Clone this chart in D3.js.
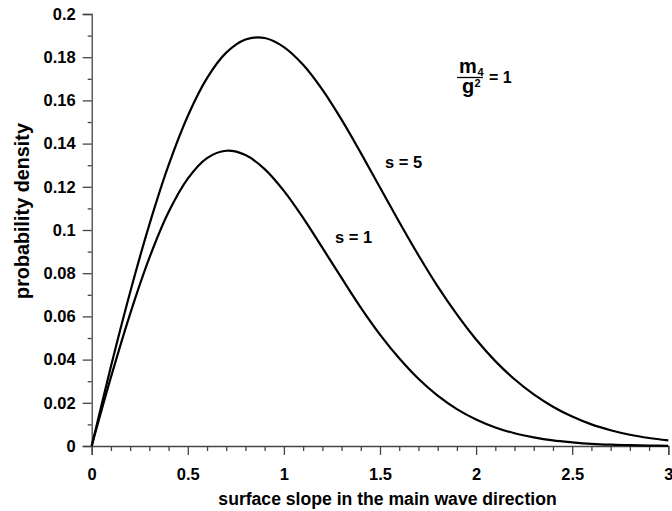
<!DOCTYPE html>
<html>
<head>
<meta charset="utf-8">
<script src="https://cdn.jsdelivr.net/npm/d3@7"></script>
<style>
  html, body { margin: 0; padding: 0; background: #fff; }
  svg { display: block; font-family: "Liberation Sans", Arial, Helvetica, sans-serif; }
</style>
</head>
<body>
<svg id="chart" width="672" height="511"></svg>
<script>
// ---- data ----
const xValues = [0.0, 0.1, 0.2, 0.3, 0.4, 0.5, 0.6, 0.7, 0.8, 0.9, 1.0,
                 1.1, 1.2, 1.3, 1.4, 1.5, 1.6, 1.7, 1.8, 1.9, 2.0,
                 2.1, 2.2, 2.3, 2.4, 2.5, 2.6, 2.7, 2.8, 2.9, 3.0];
const densityS1 = [0, 0.0318, 0.0612, 0.0871, 0.1083, 0.1238, 0.1333, 0.1367, 0.1347, 0.1282, 0.1181,
                   0.1056, 0.0918, 0.0778, 0.0641, 0.0516, 0.0406, 0.0311, 0.0233, 0.0171, 0.0123,
                   0.0086, 0.0059, 0.0040, 0.0026, 0.0017, 0.0010, 0.0006, 0.0004, 0.0002, 0.0001];
const densityS5 = [0, 0.0368, 0.0712, 0.1025, 0.1300, 0.1528, 0.1703, 0.1821, 0.1882, 0.1889, 0.1847,
                   0.1765, 0.1650, 0.1511, 0.1357, 0.1197, 0.1037, 0.0883, 0.0739, 0.0609, 0.0493,
                   0.0393, 0.0309, 0.0239, 0.0182, 0.0136, 0.0100, 0.0073, 0.0052, 0.0037, 0.0026];
const seriesLabels = ["s = 1", "s = 5"];
const xMajorTicks = [0, 0.5, 1, 1.5, 2, 2.5, 3];
const xTickLabels = ["0", "0.5", "1", "1.5", "2", "2.5", "3"];
const yMajorTicks = [0, 0.02, 0.04, 0.06, 0.08, 0.1, 0.12, 0.14, 0.16, 0.18, 0.2];
const yTickLabels = ["0", "0.02", "0.04", "0.06", "0.08", "0.1", "0.12", "0.14", "0.16", "0.18", "0.2"];
const xTitle = "surface slope in the main wave direction";
const yTitle = "probability density";

// ---- layout ----
const svg = d3.select("#chart");
const x = d3.scaleLinear().domain([0, 3]).range([91.7, 668.3]);
const y = d3.scaleLinear().domain([0, 0.2]).range([446, 14]);
const TICK_FS = 16.5;
const axisColor = "#444";

// minor ticks
const xMinor = d3.range(0, 3.0001, 0.1).map(v => +v.toFixed(2)).filter(v => !xMajorTicks.some(m => Math.abs(m - v) < 1e-6));
const yMinor = d3.range(0.01, 0.2, 0.02).map(v => +v.toFixed(3));

const gx = svg.append("g").attr("transform", `translate(0,${y(0)})`);
gx.call(d3.axisBottom(x).tickValues(xMajorTicks).tickSize(9).tickPadding(13)
  .tickFormat((d, i) => xTickLabels[i]));
gx.append("g").call(d3.axisBottom(x).tickValues(xMinor).tickSize(5).tickFormat(""))
  .select(".domain").remove();

const gy = svg.append("g").attr("transform", `translate(${x(0)},0)`);
gy.call(d3.axisLeft(y).tickValues(yMajorTicks).tickSize(9).tickPadding(7)
  .tickFormat((d, i) => yTickLabels[i]));
gy.append("g").call(d3.axisLeft(y).tickValues(yMinor).tickSize(4).tickFormat(""))
  .select(".domain").remove();

svg.selectAll(".domain").attr("stroke", axisColor).attr("stroke-width", 1.3);
svg.selectAll(".tick line").attr("stroke", axisColor).attr("stroke-width", 1.3);
svg.selectAll(".tick text").attr("font-size", TICK_FS).attr("font-weight", "bold")
  .attr("font-family", "Liberation Sans, Arial, sans-serif").attr("fill", "#000");

// curves
const line = d3.line()
  .x((d, i) => x(xValues[i]))
  .y(d => y(d))
  .curve(d3.curveCatmullRom.alpha(0.5));
[densityS1, densityS5].forEach(s => {
  svg.append("path").attr("d", line(s))
    .attr("fill", "none").attr("stroke", "#000").attr("stroke-width", 2.2)
    .attr("stroke-linejoin", "round");
});

// titles
svg.append("text").attr("x", 387.5).attr("y", 505).attr("text-anchor", "middle")
  .attr("font-size", 17.6).attr("font-weight", "bold").text(xTitle);
svg.append("text").attr("transform", "translate(29,211) rotate(-90)").attr("text-anchor", "middle")
  .attr("font-size", 19.8).attr("font-weight", "bold").text(yTitle);

// series labels
svg.append("text").attr("x", 335).attr("y", 243).attr("font-size", 16.5).attr("font-weight", "bold").text(seriesLabels[0]);
svg.append("text").attr("x", 385).attr("y", 168).attr("font-size", 16.5).attr("font-weight", "bold").text(seriesLabels[1]);

// annotation m4/g^2 = 1
const ann = svg.append("g").attr("font-weight", "bold").attr("fill", "#000");
ann.append("text").attr("x", 459).attr("y", 73).attr("font-size", 20).text("m");
ann.append("text").attr("x", 477.5).attr("y", 76).attr("font-size", 11).text("4");
ann.append("line").attr("x1", 457).attr("x2", 483).attr("y1", 77.5).attr("y2", 77.5)
  .attr("stroke", "#000").attr("stroke-width", 1.3);
ann.append("text").attr("x", 462).attr("y", 93).attr("font-size", 20).text("g");
ann.append("text").attr("x", 474.5).attr("y", 87).attr("font-size", 11).text("2");
ann.append("text").attr("x", 489).attr("y", 83).attr("font-size", 16).text("= 1");
</script>
</body>
</html>
